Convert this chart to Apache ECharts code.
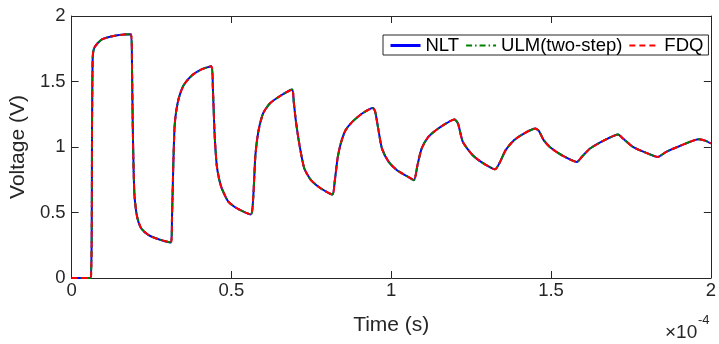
<!DOCTYPE html>
<html>
<head>
<meta charset="utf-8">
<script src="https://cdn.jsdelivr.net/npm/echarts@6/dist/echarts.min.js"></script>
<style>
  html, body { margin: 0; padding: 0; background: #fff; }
  #chart { width: 719px; height: 344px; }
</style>
</head>
<body>
<div id="chart"></div>
<script>
// Time in microseconds (axis shows units of 1e-4 s)
const timeUs = [
  0, 6.0, 6.4, 6.6, 7.0, 8.06, 9.6, 12.7, 16.3, 18.6,
  18.9, 19.1, 19.4, 19.7, 20.5, 21.8, 24.1, 27.2, 31.1,
  31.4, 31.8, 32.2, 32.7, 33.5, 35.0, 37.7, 40.8, 43.7,
  44.2, 44.7, 45.4, 46.2, 47.0, 49.1, 52.2, 56.1,
  56.8, 57.5, 58.4, 59.9, 62.0, 65.6, 69.0,
  69.5, 70.2, 71.3, 72.8, 74.9, 78.0, 81.6,
  82.3, 83.2, 84.2, 85.7, 87.8, 90.9, 94.3,
  95.0, 96.1, 97.1, 99.2, 101.8, 104.9, 107.1,
  108.2, 109.5, 111.6, 114.7, 119.8,
  120.9, 122.4, 125.5, 128.6, 132.5,
  133.8, 135.8, 138.4, 141.5, 145.1,
  146.2, 147.7, 149.8, 153.4, 158.1,
  159.6, 162.2, 166.3, 171.0,
  172.5, 175.6, 179.8, 183.4,
  186.0, 190.1, 196.3,
  198.4, 200.0
];
// Voltage (V); the three methods coincide
const nltVoltage = [
  0, 0, 1.2, 1.69, 1.752, 1.790, 1.823, 1.846, 1.859, 1.861,
  1.586, 1.205, 0.823, 0.619, 0.466, 0.378, 0.327, 0.296, 0.271,
  0.45, 0.85, 1.15, 1.27, 1.37, 1.47, 1.548, 1.594, 1.617,
  1.447, 1.115, 0.861, 0.75, 0.683, 0.581, 0.525, 0.485,
  0.607, 0.937, 1.115, 1.256, 1.332, 1.395, 1.439,
  1.344, 1.192, 1.014, 0.836, 0.747, 0.683, 0.637,
  0.734, 0.912, 1.027, 1.128, 1.192, 1.256, 1.298,
  1.268, 1.115, 0.988, 0.886, 0.823, 0.777, 0.747,
  0.861, 0.988, 1.077, 1.141, 1.210,
  1.179, 1.039, 0.937, 0.879, 0.830,
  0.874, 0.976, 1.052, 1.103, 1.141,
  1.123, 1.052, 0.996, 0.937, 0.886,
  0.924, 0.988, 1.047, 1.095,
  1.065, 1.001, 0.955, 0.924,
  0.963, 1.006, 1.060,
  1.047, 1.027
];
const ulmVoltage = nltVoltage.slice();
const fdqVoltage = nltVoltage.slice();

const seriesNames = ['NLT', 'ULM(two-step)', 'FDQ'];
const xTickStep = 0.5;
const yTickStep = 0.5;

const FONT = 'Liberation Sans, Arial, Helvetica, sans-serif';
const AX = '#262626';

function pairs(vals) { return timeUs.map((t, i) => [t / 100, vals[i]]); }

const chart = echarts.init(document.getElementById('chart'), null, { renderer: 'canvas' });

function axis(extra, step) {
  return Object.assign({
    type: 'value', min: 0, max: 2, interval: step,
    axisLine: { show: true, onZero: false, lineStyle: { color: AX, width: 1 } },
    axisTick: { show: true, inside: true, length: 7, lineStyle: { color: AX, width: 1 } },
    splitLine: { show: false },
  }, extra);
}

chart.setOption({
  animation: false,
  backgroundColor: '#fff',
  grid: { left: 71, right: 2, top: 16, bottom: 66, containLabel: false },
  xAxis: [
    axis({
      position: 'bottom',
      name: 'Time (s)', nameLocation: 'middle', nameGap: 37,
      nameTextStyle: { fontSize: 21, color: AX, fontFamily: FONT },
      axisLabel: { show: true, margin: 3, fontSize: 18.5, color: AX, fontFamily: FONT,
        formatter: v => String(v) }
    }, xTickStep),
    axis({ position: 'top', axisLabel: { show: false } }, xTickStep)
  ],
  yAxis: [
    axis({
      position: 'left',
      name: 'Voltage (V)', nameLocation: 'middle', nameGap: 39, nameRotate: 90,
      nameTextStyle: { fontSize: 21, color: AX, fontFamily: FONT },
      axisLabel: { show: true, margin: 6, fontSize: 18.5, color: AX, fontFamily: FONT,
        formatter: v => String(v) }
    }, yTickStep),
    axis({ position: 'right', axisLabel: { show: false } }, yTickStep)
  ],
  legend: {
    data: [
      { name: seriesNames[0], lineStyle: { width: 3 } },
      { name: seriesNames[1] },
      { name: seriesNames[2] }
    ],
    left: 383, top: 35,
    orient: 'horizontal',
    itemWidth: 30, itemHeight: 12, itemGap: 6,
    padding: [1, 5, 0, 6],
    borderColor: AX, borderWidth: 1, backgroundColor: '#fff',
    itemStyle: { opacity: 0, borderWidth: 0 },
    textStyle: { fontSize: 18.5, color: '#000', fontFamily: FONT },
    selectedMode: false
  },
  series: [
    { name: seriesNames[0], type: 'line', data: pairs(nltVoltage), showSymbol: false, symbol: 'none',
      smooth: 0.2,
      lineStyle: { color: '#0000ff', width: 2, type: 'solid' }, itemStyle: { color: '#0000ff' }, z: 2 },
    { name: seriesNames[1], type: 'line', data: pairs(ulmVoltage), showSymbol: false, symbol: 'none',
      smooth: 0.2,
      lineStyle: { color: '#008000', width: 2, type: [6, 3, 1.5, 3] }, itemStyle: { color: '#008000' }, z: 3 },
    { name: seriesNames[2], type: 'line', data: pairs(fdqVoltage), showSymbol: false, symbol: 'none',
      smooth: 0.2,
      lineStyle: { color: '#ff0000', width: 2, type: [6, 4] }, itemStyle: { color: '#ff0000' }, z: 4 }
  ],
  graphic: [
    { type: 'text', x: 665, y: 333,
      style: { text: '×10', fontSize: 19, fontFamily: FONT, fill: AX, align: 'left', verticalAlign: 'middle' } },
    { type: 'text', x: 698, y: 320,
      style: { text: '-4', fontSize: 13, fontFamily: FONT, fill: AX, align: 'left', verticalAlign: 'middle' } }
  ]
});
</script>
</body>
</html>
